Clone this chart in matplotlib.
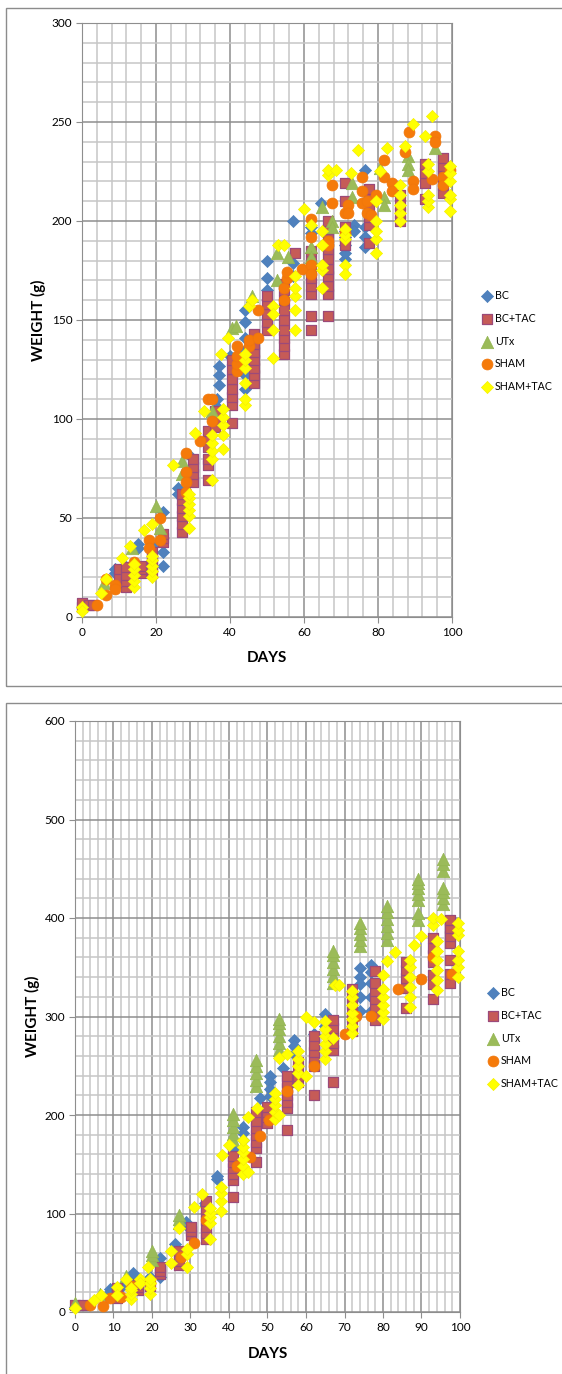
import matplotlib
matplotlib.use("Agg")
import matplotlib.pyplot as plt
from matplotlib.patches import Rectangle
from matplotlib.ticker import MultipleLocator

plt.rcParams['font.family'] = ['Lato', 'DejaVu Sans']

labels = ['BC', 'BC+TAC', 'UTx', 'SHAM', 'SHAM+TAC']

# ---- top chart: day -> weights measured that day ----
bc1_days = [0, 9, 12, 15, 19, 22, 26, 29, 36.5, 37, 40, 44, 50, 57, 62, 64.5, 71, 73.5, 76.5]
bc1_wt = [[5], [22, 24], [25], [37, 35], [36], [53, 33, 26], [62, 65], [82],
          [102, 106, 110], [117, 122, 127], [132], [155, 149, 141, 135, 128, 122, 115],
          [180, 171, 165], [200, 179, 172], [197, 194], [209],
          [181, 184, 188, 192, 195], [198, 195], [226, 197, 192, 187]]

bct1_days = [0, 2, 3, 10, 12, 16, 19, 22, 27, 30, 34, 36, 40.5, 46.5, 50, 54.5, 57.5,
             62, 66.5, 71, 77.5, 86, 92.7, 97.5]
bct1_wt = [[5, 7], [6], [6], [17, 20, 24], [15, 18, 21, 25], [22, 24, 26], [22, 25, 28, 31, 33],
           [38, 40, 42], [43, 47, 51, 55, 59, 62], [68, 72, 76, 80], [69, 77, 80, 86, 90, 94],
           [96, 100, 104], [98, 107, 111, 115, 120, 125, 130], [118, 122, 126, 130, 134, 138, 143],
           [145, 149, 153, 158, 162], [133, 137, 141, 145, 150, 155, 160, 165, 168], [184],
           [145, 152, 163, 167, 171, 175, 180, 185], [152, 163, 167, 172, 176, 181, 186, 191, 196, 200],
           [219, 210, 197, 192, 188], [189, 198, 202, 207, 211, 216], [200, 204, 208, 213],
           [211, 219, 224, 229], [214, 218, 223, 228, 232]]

utx1_days = [6, 13.5, 20, 21, 27, 35, 40.5, 41.5, 46, 52.6, 55.7, 62, 64.8, 67.5, 73, 80.5,
             81.5, 88, 95.4]
utx1_wt = [[17], [35], [56], [45], [79, 72], [104], [146], [147], [162], [184, 170], [182],
           [187, 182], [207], [200, 197], [219, 212], [227], [212, 208], [233, 229, 226], [237]]

sham1_days = [4, 6.5, 9, 14, 18, 21, 28, 32, 34, 35, 42, 45, 47.6, 54.6, 55.5, 59.4, 62, 66.5,
              67.5, 71, 72, 75.8, 77, 78, 79.5, 81.7, 83.7, 87.3, 88.4, 89.5, 94.5, 95.4, 97.5, 99.5]
sham1_wt = [[6], [19, 11], [16, 14], [28], [39, 35], [50, 39], [83, 73, 68, 63], [89], [110],
            [110, 99], [124, 128, 132, 137], [137, 140], [155, 141], [160, 166], [171, 174], [176],
            [201, 192, 178, 173], [190, 188], [218, 209], [204, 194], [208, 204], [222, 215, 209],
            [210, 204], [203], [213], [231, 222], [219, 215], [235], [245], [220, 216], [221],
            [243, 240], [222, 218], [226]]

st1_days = [0, 5, 6.5, 10.7, 13, 14, 16.8, 19, 24.6, 29, 30.5, 33, 35, 38, 37.7, 39.5, 44, 45, 46,
            51.5, 53, 54.5, 57.5, 60, 62, 64.8, 66.6, 68.7, 71, 72.6, 74.5, 79.5, 80.5, 82.3, 86,
            87.3, 89.5, 92.7, 93.5, 94.5, 99.5]
st1_wt = [[5, 3], [12], [19], [30], [36], [15, 18, 21, 24, 27], [44], [20, 23, 26, 29, 31, 47],
          [77], [45, 51, 54, 57, 60, 62], [93], [104], [69, 80, 84, 88, 92], [85, 92, 97, 101, 105],
          [133], [141], [107, 110, 118, 126, 130, 133], [157], [160], [157, 153, 145, 131], [188],
          [188], [145, 155, 162, 166, 172], [206], [198], [166, 175, 178, 188, 195], [223, 226],
          [226], [191, 193, 196, 178, 173], [224], [236], [184, 191, 195, 200, 210], [225], [237],
          [200, 204, 208, 213, 218], [238], [249], [243], [207, 210, 213, 225, 229], [253],
          [205, 211, 213, 220, 224, 228]]

# ---- bottom chart ----
bc2_days = [0, 9, 12, 15, 19.4, 22, 26, 28.8, 33.7, 36.8, 41, 43.7, 48, 50.6, 54, 57, 62, 65, 74, 77]
bc2_wt = [[5], [23, 20], [25], [36, 40], [36], [55, 36], [69], [91, 88], [111, 108], [135, 138],
          [160, 165], [188, 182, 175], [217], [240, 233, 226, 219], [248], [276, 270, 262], [282],
          [303, 290], [349, 340, 333, 320, 306], [352, 345, 334, 320, 306]]

bct2_days = [0, 2, 11, 16.4, 19.4, 22, 27, 30.2, 34, 41, 47, 50, 55, 58, 62, 67, 72, 78, 86, 93, 97.5]
bct2_wt = [[7], [7], [14, 17, 20, 24], [22, 25, 28], [26], [39, 42, 46], [48, 52, 57, 62],
           [78, 82, 86], [74, 80, 86, 93, 99, 105, 113], [117, 134, 140, 146, 152, 158],
           [152, 167, 173, 180, 187, 194, 203], [192, 198, 203, 208],
           [185, 207, 213, 220, 227, 234, 240], [233, 240, 247, 254], [220, 250, 257, 264, 271, 280],
           [233, 266, 273, 280, 288, 296], [285, 292, 299, 306, 313, 320, 328],
           [296, 303, 310, 318, 326, 334, 346], [309, 329, 339, 347, 355],
           [318, 333, 342, 355, 362, 370, 380], [334, 343, 357, 375, 382, 390, 398]]

utx2_days = [0, 6.5, 13.3, 20, 27, 41, 47, 53, 67, 74, 81, 89, 95.7]
utx2_wt = [[9], [18], [37], [53, 58, 62], [90, 94, 98], [175, 181, 188, 195, 201],
           [229, 236, 243, 250, 256], [266, 273, 280, 287, 293, 297], [334, 341, 348, 355, 362, 367],
           [372, 378, 384, 390, 395], [378, 385, 392, 399, 406, 412],
           [398, 405, 418, 424, 430, 436, 440], [414, 420, 426, 430, 448, 455, 460]]

sham2_days = [3.8, 7.3, 9, 12, 14.5, 19.4, 27.5, 31, 34, 42, 45.5, 48, 50.5, 55, 62, 70, 73, 77,
              84, 90, 93, 98]
sham2_wt = [[7], [6], [14], [15], [26], [29], [56], [70], [93], [148], [157], [179], [195], [224],
            [250], [282], [301], [301], [328], [338], [360], [343]]

st2_days = [0, 5, 6.8, 10.9, 13.3, 14.5, 16.8, 19.4, 18.9, 25, 27, 29, 31, 33, 35, 38, 38.3, 40,
            43.7, 45, 47.2, 52, 53, 55, 58, 60, 62, 65, 67, 67.5, 68.7, 72, 80, 81, 83, 87, 88, 90,
            93, 94, 95, 99.5]
st2_wt = [[4], [12], [17], [25, 17], [34], [13, 18, 22, 24], [34, 29], [18, 24, 29, 34], [46],
          [62, 50], [85], [59, 46, 64], [107], [120], [74, 90, 96, 101, 106], [103, 113, 121, 127],
          [159], [170], [140, 148, 155, 162, 168, 175], [198, 142], [207], [196, 203, 210, 216, 222],
          [200, 258], [262], [230, 243, 250, 257, 265], [240, 300], [294],
          [257, 265, 272, 280, 287, 295], [278], [332], [332], [283, 290, 297, 304, 312, 320, 326],
          [297, 305, 312, 320, 328, 342], [356], [365], [310, 320, 330, 340, 350, 357], [373], [382],
          [393, 400], [327, 337, 347, 357, 367, 377], [399], [340, 350, 357, 367, 383, 388, 395]]


def expand(days, groups):
    xs, ys = [], []
    for d, g in zip(days, groups):
        xs += [d] * len(g)
        ys += g
    return xs, ys


styles = [
    dict(marker='D', s=38, color='#4F81BD', edgecolors='#4A7EBB', linewidths=0.5),
    dict(marker='s', s=58, color='#C65B57', edgecolors='#9B4A7A', linewidths=0.9),
    dict(marker='^', s=80, color='#9BBB59', edgecolors='#93B551', linewidths=0.5),
    dict(marker='o', s=62, color='#F57A0A', edgecolors='#F0760A', linewidths=0.5),
    dict(marker='D', s=38, color='#FFFF00', edgecolors='#F5F000', linewidths=0.5),
]

fig = plt.figure(figsize=(5.62, 13.74), dpi=100)
W, H = 562, 1374

# chart frames
fig.patches.append(Rectangle((6 / W, 1 - 686 / H), 1.2, (686 - 8) / H, transform=fig.transFigure,
                             fill=False, edgecolor='#8c8c8c', lw=1.0))
fig.patches.append(Rectangle((6 / W, -0.05), 1.2, 0.05 + 1 - 703 / H, transform=fig.transFigure,
                             fill=False, edgecolor='#8c8c8c', lw=1.0))


def setup(ax, xmaj, xmin, ymaj, ymin, ymax):
    ax.set_xlim(0, 100)
    ax.set_ylim(0, ymax)
    ax.xaxis.set_major_locator(MultipleLocator(xmaj))
    ax.xaxis.set_minor_locator(MultipleLocator(xmin))
    ax.yaxis.set_major_locator(MultipleLocator(ymaj))
    ax.yaxis.set_minor_locator(MultipleLocator(ymin))
    ax.grid(which='minor', color='#c6c6c6', lw=1.1)
    ax.grid(which='major', color='#8e8e8e', lw=1.1)
    ax.set_axisbelow(True)
    for sp in ax.spines.values():
        sp.set_color('#8e8e8e')
    ax.tick_params(which='major', length=4, color='#8e8e8e', labelsize=8.5, pad=3)
    ax.tick_params(which='minor', length=0)
    ax.set_xlabel('DAYS', fontsize=11, fontweight='bold')
    ax.set_ylabel('WEIGHT (g)', fontsize=11, fontweight='bold')


legend_kw = dict(loc='upper left', frameon=False, fontsize=7.7, handlelength=0.9,
                 handletextpad=0.3, labelspacing=1.1, borderpad=0, borderaxespad=0,
                 scatterpoints=1)

# top chart
ax1 = fig.add_axes([82 / W, 1 - 617 / H, 370 / W, 594 / H])
setup(ax1, 20, 4, 50, 10, 300)
ax1.xaxis.set_label_coords(0.5, -0.057)
ax1.yaxis.set_label_coords(-0.097, 0.5)
handles = []
for (d, w), lab, st in zip([(bc1_days, bc1_wt), (bct1_days, bct1_wt), (utx1_days, utx1_wt),
                            (sham1_days, sham1_wt), (st1_days, st1_wt)], labels, styles):
    x, y = expand(d, w)
    handles.append(ax1.scatter(x, y, label=lab, clip_on=False, zorder=3, **st))
fig.legend(handles=handles, bbox_to_anchor=(482 / W, 1 - 290 / H), **legend_kw)

# bottom chart
ax2 = fig.add_axes([75 / W, 1 - 1312 / H, 385 / W, 591 / H])
setup(ax2, 10, 2, 100, 20, 600)
ax2.xaxis.set_label_coords(0.501, -0.059)
ax2.yaxis.set_label_coords(-0.091, 0.5)
handles = []
for (d, w), lab, st in zip([(bc2_days, bc2_wt), (bct2_days, bct2_wt), (utx2_days, utx2_wt),
                            (sham2_days, sham2_wt), (st2_days, st2_wt)], labels, styles):
    x, y = expand(d, w)
    handles.append(ax2.scatter(x, y, label=lab, clip_on=False, zorder=3, **st))
fig.legend(handles=handles, bbox_to_anchor=(488 / W, 1 - 987 / H), **legend_kw)

fig.savefig('out.png', dpi=100, facecolor='white')
